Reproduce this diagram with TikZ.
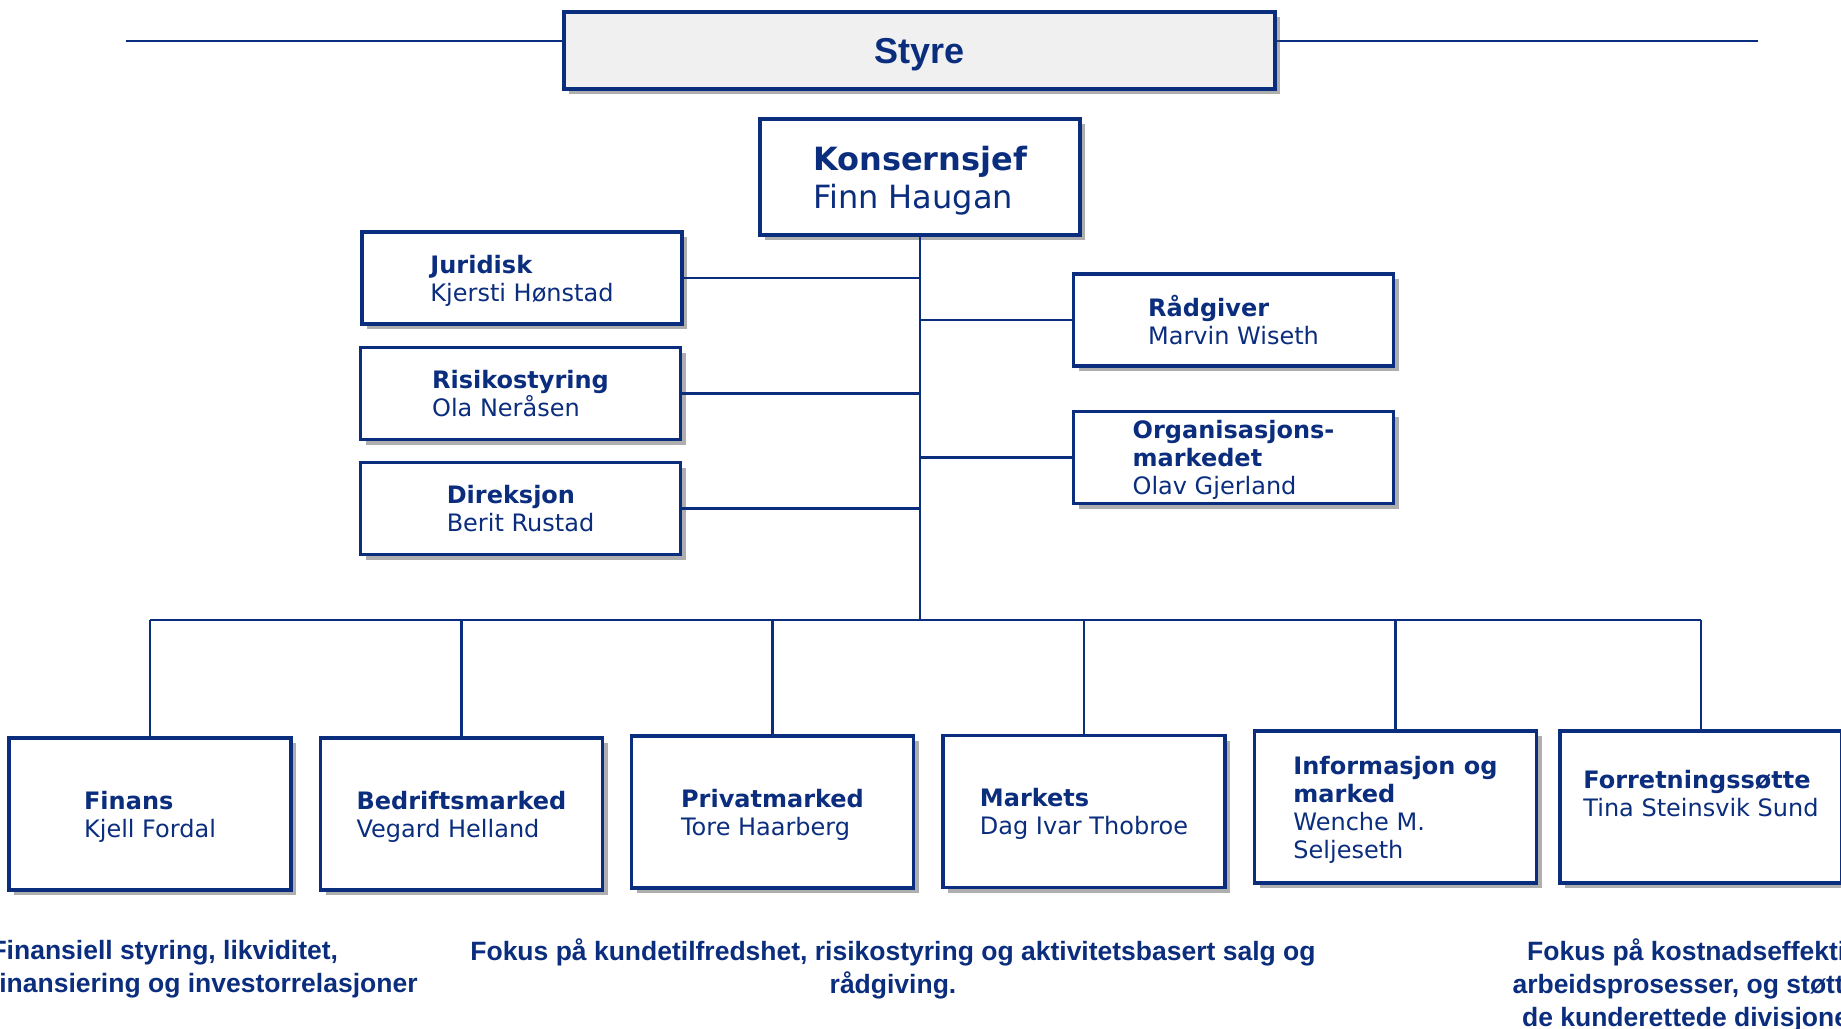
\documentclass[tikz,border=0pt]{standalone}
\usepackage{fontspec}
\setmainfont{DejaVu Sans}
\newfontfamily\arialfont{Liberation Sans}
\usepackage{tikz}
\usetikzlibrary{shadows}
\definecolor{navy}{HTML}{0B2D7E}
\definecolor{boardgray}{HTML}{F0F0F0}

\begin{document}
\begin{tikzpicture}
                [
                x=1pt,y=-1pt,
                unit/.style={draw=navy,line width=3.2pt,fill=white,align=left,text=navy,text depth=0pt,
                  drop shadow={shadow xshift=5pt,shadow yshift=-5pt,opacity=0.45,fill=black!70},
                  font=\fontsize{24}{28}\selectfont},
                staff/.style={unit,minimum width=320pt,minimum height=92pt},
                division/.style={unit,minimum width=282pt,minimum height=152pt},
                edge/.style={draw=navy,line width=2.4pt},
                note/.style={text=navy,font=\arialfont\bfseries\fontsize{26.5}{33}\selectfont}
                ]
            \useasboundingbox (0,0) rectangle (1841,1028);
            \clip (0,0) rectangle (1841,1028);
            % board
            \coordinate (sl) at (126,41);
            \coordinate (sr) at (1758,41);
            \draw[edge,line width=2.8pt] (sl) -- (sr);
            \node[unit,fill=boardgray,minimum width=711pt,minimum height=77pt,
              font=\arialfont\bfseries\fontsize{36}{40}\selectfont] (styre) at (919.5,50.5) {Styre};
            % ceo and staff
            \node[unit,minimum width=320pt,minimum height=116pt,font=\fontsize{32}{38}\selectfont]
              (ceo) at (920,177) {\bfseries Konsernsjef\\Finn Haugan};
            \node[staff] (jur) at (522,278) {\bfseries Juridisk\\Kjersti Hønstad};
            \node[staff] (risk) at (520.5,393.5) {\bfseries Risikostyring\\Ola Neråsen};
            \node[staff] (dir) at (520.5,508.5) {\bfseries Direksjon\\Berit Rustad};
            \node[staff] (adv) at (1233.5,320) {\bfseries Rådgiver\\Marvin Wiseth};
            \node[staff] (org) at (1233.5,457.5) {\bfseries Organisasjons-\\\bfseries markedet\\Olav Gjerland};
            % divisions
            \node[division] (fin) at (150,814) {\bfseries Finans\\Kjell Fordal};
            \node[division] (bed) at (461.5,814) {\bfseries Bedriftsmarked\\Vegard Helland};
            \node[division] (priv) at (772.5,812) {\bfseries Privatmarked\\Tore Haarberg};
            \node[division] (mkt) at (1084,811.5) {\bfseries Markets\\Dag Ivar Thobroe};
            \node[division] (info) at (1395.5,807) {\bfseries Informasjon og\\\bfseries marked\\Wenche M.\\Seljeseth};
            \node[division] (fort) at (1701,807) {\bfseries Forretningssøtte\\Tina Steinsvik Sund\\\mbox{}};
            % connectors
            \coordinate (bus) at (920,620);
            \draw[edge] (ceo) -- (bus);
            \foreach \n in {jur,risk,dir,adv,org}
              \draw[edge] (\n) -- (\n -| bus);
            \draw[edge] (fin.north |- bus) -- (fort.north |- bus);
            \foreach \n in {fin,bed,priv,mkt,info,fort}
              \draw[edge] (\n) -- (\n |- bus);
            % focus notes
            \node[note,align=left,anchor=west] (finnote) at (-13,969)
              {Finansiell styring, likviditet,\\finansiering og investorrelasjoner};
            \node[note,align=center] (kundenote) at (893,969)
              {Fokus på kundetilfredshet, risikostyring og aktivitetsbasert salg og\\rådgiving.};
            \node[note,align=center] (kostnote) at (1701,985)
              {Fokus på kostnadseffektive\\arbeidsprosesser, og støtte til\\de kunderettede divisjonene};
\end{tikzpicture}
\end{document}
